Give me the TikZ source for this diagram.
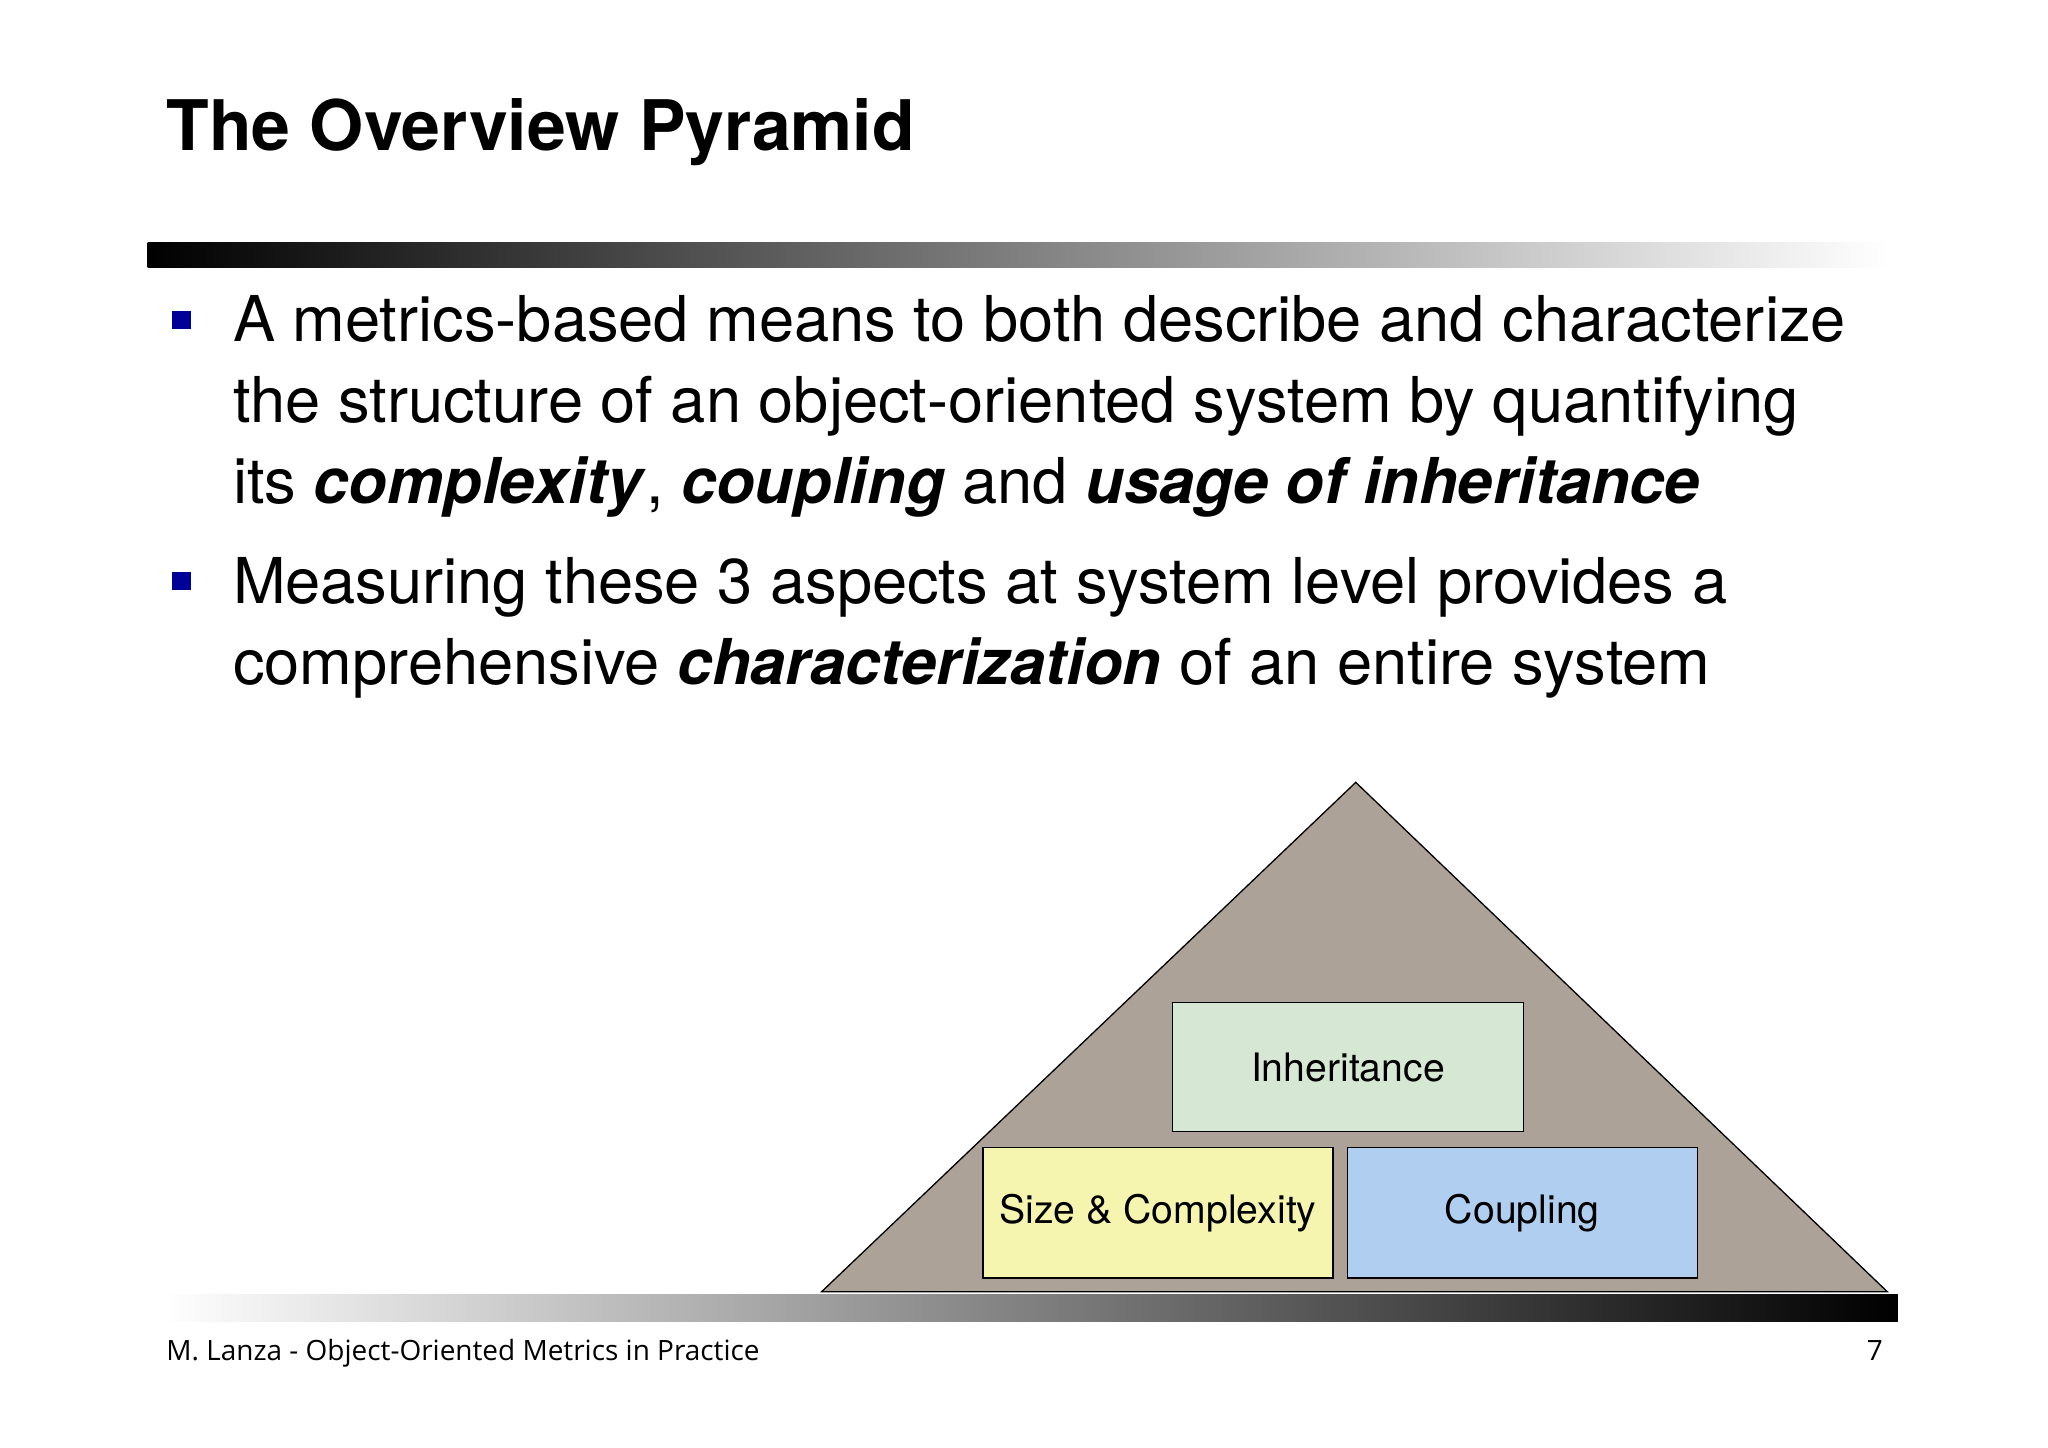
\documentclass[tikz,border=0pt]{standalone}
\usepackage{fontspec}
\setmainfont{TeX Gyre Heros}
\newfontfamily\footfont{Open Sans}
\begin{document}
\begin{tikzpicture}[x=0.5pt,y=-0.5pt,
  box/.style={draw=black,line width=0.5pt,anchor=north west,inner sep=0pt,font=\fontsize{15}{17}\selectfont},
  bul/.style={fill=blue!60!black},
  btxt/.style={anchor=north west,align=left,inner sep=0pt,font=\fontsize{24.2}{31}\selectfont}]
\useasboundingbox (0,0) rectangle (1568,1108);
\fill[white] (0,0) rectangle (1568,1108);
\node[anchor=base west,inner sep=0pt,font=\fontsize{26.7}{32}\selectfont\bfseries] (title) at (127,115) {The Overview Pyramid};
\shade[left color=black,right color=white] (113,186) rectangle (1445,205);
\fill[bul] (132,238) rectangle (146,252);
\fill[bul] (132,438) rectangle (146,452);
\node[btxt] (b1) at (178,226) {A metrics-based means to both describe and characterize\\the structure of an object-oriented system by quantifying\\its \textbf{\textit{complexity}}, \textbf{\textit{coupling}} and \textbf{\textit{usage of inheritance}}};
\node[btxt] (b2) at (178,426) {Measuring these 3 aspects at system level provides a\\comprehensive \textbf{\textit{characterization}} of an entire system};
\filldraw[fill={rgb,255:red,172;green,162;blue,152},draw=black,line width=0.5pt] (1038,599) -- (1445,989) -- (629,989) -- cycle;
\node[box,fill={rgb,255:red,214;green,232;blue,212},minimum width=134.5pt,minimum height=49.5pt] (inh) at (897,767) {Inheritance};
\node[box,fill={rgb,255:red,245;green,245;blue,176},minimum width=134pt,minimum height=50pt] (size) at (752,878) {Size \& Complexity};
\node[box,fill={rgb,255:red,176;green,206;blue,240},minimum width=134pt,minimum height=50pt] (coup) at (1031,878) {Coupling};
\shade[left color=white,right color=black] (125,991) rectangle (1453,1012);
\node[anchor=base west,inner sep=0pt,font=\footfont\fontsize{10.7}{13}\selectfont] (foot) at (127,1042) {M. Lanza - Object-Oriented Metrics in Practice};
\node[anchor=base east,inner sep=0pt,font=\footfont\fontsize{10.7}{13}\selectfont] (pg) at (1442,1042) {7};
\end{tikzpicture}
\end{document}
